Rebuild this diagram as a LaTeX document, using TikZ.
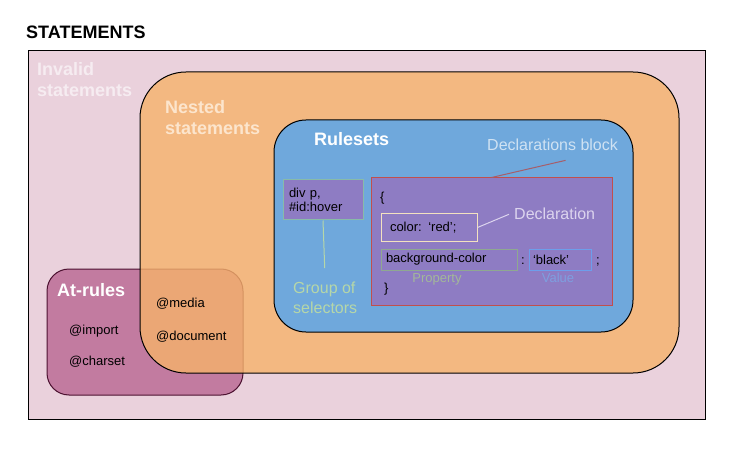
\documentclass[tikz,border=0pt]{standalone}
\usepackage{fontspec}
\setmainfont{Liberation Sans}

\definecolor{pinkbg}{HTML}{EAD1DC}
\definecolor{nestorange}{HTML}{F6B26B}
\definecolor{ruleblue}{HTML}{6FA8DC}
\definecolor{declpurple}{HTML}{8E7CC3}
\definecolor{atpurple}{HTML}{C27BA0}
\definecolor{atborder}{HTML}{4C1130}
\definecolor{invalidtxt}{HTML}{F6ECF1}
\definecolor{nesttxt}{HTML}{FCE5CD}
\definecolor{blocktxt}{HTML}{CFE2F3}
\definecolor{blockline}{HTML}{A65E6A}
\definecolor{blockborder}{HTML}{C0504D}
\definecolor{decltxt}{HTML}{DCD4EE}
\definecolor{declborder}{HTML}{F3E2C0}
\definecolor{selborder}{HTML}{88BBA8}
\definecolor{seltxt}{HTML}{B6D7A8}
\definecolor{proptxt}{HTML}{A3B899}
\definecolor{propborder}{HTML}{8FA891}
\definecolor{valborder}{HTML}{6D9EEB}
\definecolor{valtxt}{HTML}{7E9FE0}

\begin{document}
\begin{tikzpicture}[x = 1pt, y = -1pt,
  region/.style = {draw = black, line width = 1pt, inner sep = 0pt},
  head/.style = {font = \bfseries\fontsize{18}{21}\selectfont, inner sep = 0pt},
  lbl/.style = {font = \fontsize{16}{20}\selectfont, inner sep = 0pt},
  small/.style = {font = \fontsize{13}{14}\selectfont, inner sep = 0pt},
  box/.style = {line width = 1pt, fill = declpurple, inner sep = 0pt}]
\useasboundingbox (0, 0) rectangle (736, 449);

\node[head, anchor = base west] (title) at (26, 39) {STATEMENTS};

% regions
\node[draw, line width = 1pt, fill = pinkbg, minimum width = 677pt, minimum height = 368pt] (invalid) at (366.5, 235) {};
\node[region, draw = atborder, fill = atpurple, rounded corners = 22pt, minimum width = 196pt, minimum height = 126pt] (atrules) at (145, 332) {};
\node[region, fill = nestorange, fill opacity = 0.8, rounded corners = 46pt, minimum width = 539pt, minimum height = 301pt] (nested) at (409.5, 222.5) {};
\node[region, fill = ruleblue, rounded corners = 32pt, minimum width = 359pt, minimum height = 212pt] (rulesets) at (453.5, 226) {};

\node[head, text = invalidtxt, align = left, anchor = north west] (invalidlbl) at (37, 62) {Invalid\\statements};
\node[head, text = nesttxt, align = left, anchor = north west] (nestedlbl) at (165, 100) {Nested\\statements};
\node[head, text = white, anchor = base west] (ruleslbl) at (314, 146) {Rulesets};
\node[head, text = white, anchor = base west] (atlbl) at (57, 296) {At-rules};

% selectors
\node[box, draw = selborder, small, align = left, text width = 68pt, inner xsep = 6pt, minimum height = 40pt] (selbox) at (323, 200) {div p,\\\#id:hover};
\node[lbl, text = seltxt, align = left, anchor = north west] (grouplbl) at (293, 282) {Group of\\selectors};
\draw[seltxt, line width = 1pt, shorten > = 14pt] (selbox.south) -- (grouplbl.north);

% declarations block
\node[box, draw = blockborder, minimum width = 241pt, minimum height = 127pt] (declblock) at (491.5, 241.5) {};
\node[lbl, text = blocktxt, anchor = base west] (blocklbl) at (487, 151) {Declarations block};
\draw[blockline, line width = 1pt] (declblock.north) -- ([xshift = 13pt, yshift = -9pt]blocklbl.south);

\node[small, anchor = base west] (lbrace) at (380, 201) {\{};
\node[box, draw = declborder, small, align = left, text width = 78pt, inner xsep = 9pt, minimum height = 27pt] (colorbox) at (429, 227.5) {color: ‘red’;};
\node[lbl, text = decltxt, anchor = base west] (decllbl) at (514, 219) {Declaration};
\draw[decltxt, line width = 1pt] (colorbox.east) -- ([xshift = -5pt, yshift = -1pt]decllbl.west);

\node[box, draw = propborder, line width = 0.8pt, small, align = left, text width = 126pt, inner xsep = 5pt, minimum height = 21pt] (propbox) at (449, 259.5) {background-color};
\node[small, anchor = base west] (colon) at (521, 264) {:};
\node[box, draw = valborder, line width = 0.8pt, small, align = left, text width = 54pt, inner xsep = 4pt, minimum height = 21pt] (valbox) at (560, 259.5) {‘black’};
\node[small, anchor = base west] (semi) at (596, 264) {;};
\node[small, text = proptxt, anchor = base] (proplbl) at (437, 282) {Property};
\node[small, text = valtxt, anchor = base] (vallbl) at (558, 282) {Value};
\node[small, anchor = base west] (rbrace) at (384, 292) {\}};

% at-rules
\node[small, anchor = base west] (media) at (156, 307) {@media};
\node[small, anchor = base west] (document) at (156, 340) {@document};
\node[small, anchor = base west] (import) at (69, 334) {@import};
\node[small, anchor = base west] (charset) at (69, 365) {@charset};

\end{tikzpicture}
\end{document}
